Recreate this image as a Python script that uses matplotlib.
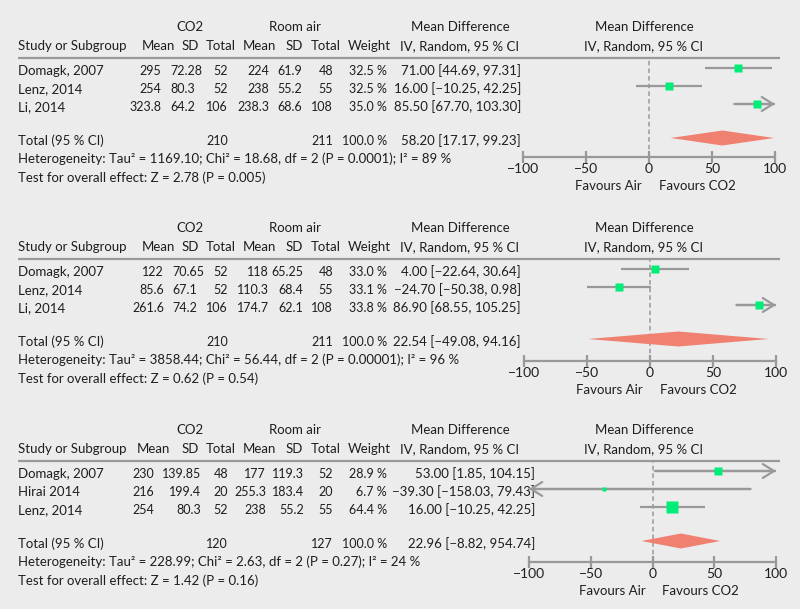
import numpy as np
import matplotlib
matplotlib.use("Agg")
import matplotlib.pyplot as plt

plt.rcParams['font.family'] = ['Lato', 'DejaVu Sans']

# ---- data -------------------------------------------------------------
studies = [
    ["Domagk, 2007", "Lenz, 2014", "Li, 2014"],
    ["Domagk, 2007", "Lenz, 2014", "Li, 2014"],
    ["Domagk, 2007", "Hirai 2014", "Lenz, 2014"],
]
co2_mean = [["295", "254", "323.8"], ["122", "85.6", "261.6"], ["230", "216", "254"]]
co2_sd = [["72.28", "80.3", "64.2"], ["70.65", "67.1", "74.2"], ["139.85", "199.4", "80.3"]]
co2_n = [["52", "52", "106"], ["52", "52", "106"], ["48", "20", "52"]]
air_mean = [["224", "238", "238.3"], ["118", "110.3", "174.7"], ["177", "255.3", "238"]]
air_sd = [["61.9", "55.2", "68.6"], ["65.25", "68.4", "62.1"], ["119.3", "183.4", "55.2"]]
air_n = [["48", "55", "108"], ["48", "55", "108"], ["52", "20", "55"]]
weights = [[32.5, 32.5, 35.0], [33.0, 33.1, 33.8], [28.9, 6.7, 64.4]]
md = [[71.00, 16.00, 85.50], [4.00, -24.70, 86.90], [53.00, -39.30, 16.00]]
ci_lo = [[44.69, -10.25, 67.70], [-22.64, -50.38, 68.55], [1.85, -158.03, -10.25]]
ci_hi = [[97.31, 42.25, 103.30], [30.64, 0.98, 105.25], [104.15, 79.43, 42.25]]
md_labels = [
    ["71.00 [44.69, 97.31]", "16.00 [−10.25, 42.25]", "85.50 [67.70, 103.30]"],
    ["4.00 [−22.64, 30.64]", "−24.70 [−50.38, 0.98]", "86.90 [68.55, 105.25]"],
    ["53.00 [1.85, 104.15]", "−39.30 [−158.03, 79.43]", "16.00 [−10.25, 42.25]"],
]
tot_co2 = ["210", "210", "120"]
tot_air = ["211", "211", "127"]
tot_md = [58.20, 22.54, 22.96]
tot_lo = [17.17, -49.08, -8.82]
tot_hi = [99.23, 94.16, 54.74]
tot_labels = ["58.20 [17.17, 99.23]", "22.54 [−49.08, 94.16]", "22.96 [−8.82, 954.74]"]
het_text = [
    "Heterogeneity: Tau² = 1169.10; Chi² = 18.68, df = 2 (P = 0.0001); I² = 89 %",
    "Heterogeneity: Tau² = 3858.44; Chi² = 56.44, df = 2 (P = 0.00001); I² = 96 %",
    "Heterogeneity: Tau² = 228.99; Chi² = 2.63, df = 2 (P = 0.27); I² = 24 %",
]
test_text = [
    "Test for overall effect: Z = 2.78 (P = 0.005)",
    "Test for overall effect: Z = 0.62 (P = 0.54)",
    "Test for overall effect: Z = 1.42 (P = 0.16)",
]
ticks = [-100, -50, 0, 50, 100]

# ---- layout (pixels) --------------------------------------------------
W, H = 800, 609
offsets = [0, 201, 403]
axis_y = [157, 361, 562]
plot_x = [(523, 775), (524, 776), (529, 776)]
mean_x = [161, 164, 154]
mean_hdr_x = [158, 158, 153]
sd_x = [(170, 'left'), (172, 'left'), (201, 'right')]
air_mean_x = [269, 269, 266]
air_sd_x = [302, 303, 304]
md_x = [521, 521, 535]

BG = '#ececec'
GREY = '#999999'
TXT = '#1e1e1e'
FS = 9.5     # words
FSN = 9      # numbers in the table

fig = plt.figure(figsize=(W / 100, H / 100), dpi=100, facecolor=BG)
bg = fig.add_axes([0, 0, 1, 1])
bg.set_xlim(0, W)
bg.set_ylim(H, 0)
bg.axis('off')


def t(x, y, s, ha='left', fs=FS):
    bg.text(x, y, s, ha=ha, va='center', fontsize=fs, color=TXT)


for p in range(3):
    o = offsets[p]
    rule_y = o + 58
    rows = [o + 71, o + 89, o + 107]
    tot_y = o + 141

    # headers
    t(190, o + 27, "CO2", 'center')
    t(295, o + 27, "Room air", 'center')
    t(460, o + 27, "Mean Difference", 'center')
    t(644, o + 27, "Mean Difference", 'center')
    t(18, o + 46, "Study or Subgroup")
    t(mean_hdr_x[p], o + 46, "Mean", 'center')
    t(190, o + 46, "SD", 'center')
    t(221, o + 46, "Total", 'center')
    t(259, o + 46, "Mean", 'center')
    t(294, o + 46, "SD", 'center')
    t(326, o + 46, "Total", 'center')
    t(369, o + 46, "Weight", 'center')
    t(460, o + 46, "IV, Random, 95 % CI", 'center')
    t(644, o + 46, "IV, Random, 95 % CI", 'center')
    bg.plot([18, 780], [rule_y, rule_y], color=GREY, lw=1.6, solid_capstyle='butt')

    for i in range(3):
        y = rows[i]
        t(18, y, studies[p][i])
        t(mean_x[p], y, co2_mean[p][i], 'right', FSN)
        t(sd_x[p][0], y, co2_sd[p][i], sd_x[p][1], FSN)
        t(228, y, co2_n[p][i], 'right', FSN)
        t(air_mean_x[p], y, air_mean[p][i], 'right', FSN)
        t(air_sd_x[p], y, air_sd[p][i], 'right', FSN)
        t(333, y, air_n[p][i], 'right', FSN)
        t(387, y, f"{weights[p][i]:.1f} %", 'right', FSN)
        t(md_x[p], y, md_labels[p][i], 'right')

    t(18, tot_y, "Total (95 % CI)")
    t(228, tot_y, tot_co2[p], 'right', FSN)
    t(333, tot_y, tot_air[p], 'right', FSN)
    t(387, tot_y, "100.0 %", 'right', FSN)
    t(md_x[p], tot_y, tot_labels[p], 'right')
    t(18, o + 159, het_text[p])
    t(18, o + 178, test_text[p])

    # forest plot axes
    x0, x1 = plot_x[p]
    ay = axis_y[p]
    ax = fig.add_axes([x0 / W, 1 - ay / H, (x1 - x0) / W, (ay - rule_y) / H])
    ax.set_facecolor('none')
    ax.set_xlim(-100, 100)
    ax.set_ylim(ay, rule_y)
    for s in ['top', 'left', 'right']:
        ax.spines[s].set_visible(False)
    ax.spines['bottom'].set_color(GREY)
    ax.spines['bottom'].set_linewidth(1.6)
    ax.set_yticks([])
    ax.set_xticks(ticks)
    ax.set_xticklabels([str(v).replace('-', '−') for v in ticks])
    ax.tick_params(axis='x', direction='inout', length=8, width=1.6,
                   color=GREY, labelsize=10, labelcolor=TXT, pad=0.5)
    ax.axvline(0, color=GREY, lw=1.1, ls=(0, (3, 2)), zorder=1)

    for i in range(3):
        y = rows[i] - 3
        lo, hi = ci_lo[p][i], ci_hi[p][i]
        a, b = max(lo, -100), min(hi, 100)
        ax.plot([a, b], [y, y], color=GREY, lw=1.6, zorder=2,
                solid_capstyle='butt')
        if hi > 100:
            ax.annotate('', xy=(100, y), xytext=(a, y),
                        arrowprops=dict(arrowstyle='->,head_length=0.8,head_width=0.5',
                                        color=GREY, lw=1.6, shrinkA=0, shrinkB=0),
                        annotation_clip=False, zorder=2)
        if lo < -100:
            ax.annotate('', xy=(-100, y), xytext=(b, y),
                        arrowprops=dict(arrowstyle='->,head_length=0.8,head_width=0.5',
                                        color=GREY, lw=1.6, shrinkA=0, shrinkB=0),
                        annotation_clip=False, zorder=2)
        side = 1.45 * np.sqrt(weights[p][i])
        ax.plot(md[p][i], y, 's', ms=side * 0.72, color='#00ee77',
                mec='none', zorder=3, clip_on=False)

    dy = tot_y - 3
    h = 7.5
    ax.fill([tot_lo[p], tot_md[p], tot_hi[p], tot_md[p]],
            [dy, dy - h, dy, dy + h], color='#f08070', lw=0, zorder=3,
            clip_on=False)

    zx = x0 + (x1 - x0) / 2
    fy = ay + 29
    t(zx - 7, fy, "Favours Air", 'right')
    t(zx + 10, fy, "Favours CO2", 'left')

fig.savefig("out.png", dpi=100, facecolor=BG)
